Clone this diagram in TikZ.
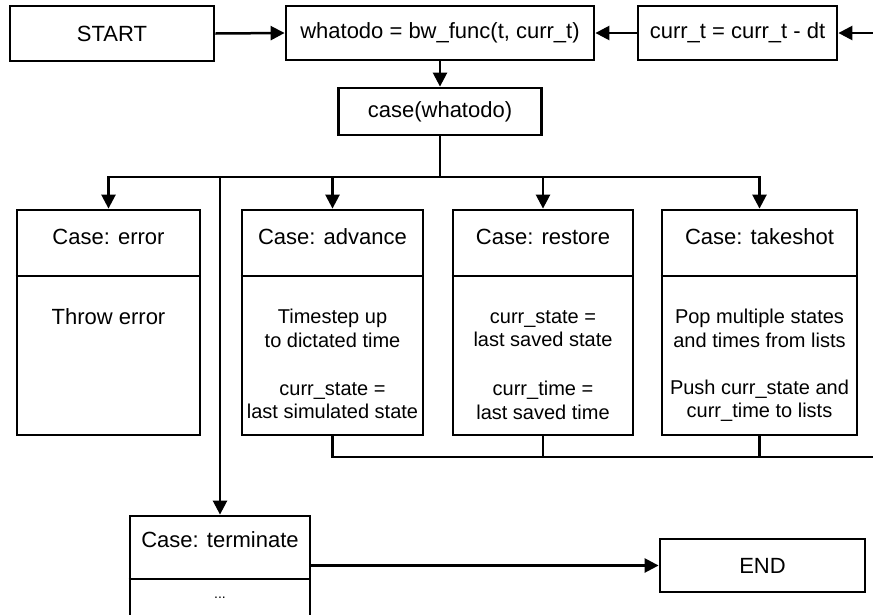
\documentclass[tikz,border=0pt]{standalone}
\usepackage{fontspec}
\setmainfont{Liberation Sans}
\usetikzlibrary{arrows.meta}
\begin{document}
\begin{tikzpicture}[x=1pt,y=-1pt,
  box/.style={draw,line width=2.8pt,rectangle,inner sep=0pt},
  conn/.style={line width=2.5pt},
  arr/.style={conn,-{Triangle[length=14pt,width=14pt]}},
  lbl/.style={font=\fontsize{22}{26}\selectfont,inner sep=0pt},
  body/.style={font=\fontsize{20}{23.5}\selectfont,align=center,inner sep=0pt},
  dots/.style={font=\fontsize{14}{16}\selectfont,inner sep=0pt},
  div/.style={line width=1.6pt}]
\useasboundingbox (0,0) rectangle (873,614);
\clip (0,0) rectangle (873,614);

% top row
\node[box,minimum width=204pt,minimum height=55pt] (start) at (112,33.5) {};
\node[lbl] (startt) at (112,33.5) {START};
\node[box,minimum width=308pt,minimum height=54pt] (what) at (440,33) {};
\node[lbl] (whatt) at (440,33) {whatodo = bw\_func(t, curr\_t)};
\node[box,minimum width=199pt,minimum height=54pt] (currt) at (737.5,33) {};
\node[lbl] (currtt) at (737.5,33) {curr\_t = curr\_t - dt};
\coordinate (rin) at (873,33);

% case
\node[box,minimum width=203pt,minimum height=47pt] (case) at (440,111.5) {};
\node[lbl] (caset) at (440,111.5) {case(whatodo)};

% case boxes
\node[box,minimum width=183pt,minimum height=225pt] (err) at (108.5,322.5) {};
\node[box,minimum width=181pt,minimum height=225pt] (adv) at (332.5,322.5) {};
\node[box,minimum width=180pt,minimum height=225pt] (res) at (543,322.5) {};
\node[box,minimum width=195pt,minimum height=225pt] (tak) at (759.5,322.5) {};
\draw[div] (err.west |- 0,276) -- (err.east |- 0,276);
\draw[div] (adv.west |- 0,276) -- (adv.east |- 0,276);
\draw[div] (res.west |- 0,276) -- (res.east |- 0,276);
\draw[div] (tak.west |- 0,276) -- (tak.east |- 0,276);

\node[lbl] (errt) at (108.5,237) {Case: error};
\node[lbl] (advt) at (332.5,237) {Case: advance};
\node[lbl] (rest) at (543,237) {Case: restore};
\node[lbl] (takt) at (759.5,237) {Case: takeshot};

\node[lbl] (errb) at (108.5,317) {Throw error};
\node[body] (advb1) at (332.5,328.5) {Timestep up\\to dictated time};
\node[body] (advb2) at (332.5,400.5) {curr\_state =\\last simulated state};
\node[body] (resb1) at (543,328.5) {curr\_state =\\last saved state};
\node[body] (resb2) at (543,400.5) {curr\_time =\\last saved time};
\node[body] (takb1) at (759.5,328.5) {Pop multiple states\\and times from lists};
\node[body] (takb2) at (759.5,400.5) {Push curr\_state and\\curr\_time to lists};

% terminate and end
\node[box,minimum width=180pt,minimum height=108pt] (term) at (220,570) {};
\draw[div] (term.west |- 0,579) -- (term.east |- 0,579);
\node[lbl] (termt) at (220,540) {Case: terminate};
\node[dots] (termd) at (220,598) {...};
\node[box,minimum width=205pt,minimum height=53pt] (endn) at (762.5,565.5) {};
\node[lbl] (endt) at (762.5,565.5) {END};

% connectors
\draw[arr] (start.east) -- (what.west);
\draw[arr] (currt.west) -- (what.east);
\draw[arr] (rin) -- (currt.east);
\draw[arr] (what.south) -- (case.north);
\draw[conn] (case.south) -- (case.south |- 0,177) coordinate (bj);
\draw[arr] (bj) -| (err.north);
\draw[arr] (bj) -| (tak.north);
\draw[arr] (adv.north |- bj) -- (adv.north);
\draw[arr] (res.north |- bj) -- (res.north);
\draw[arr] (term.north |- bj) -- (term.north);
\coordinate (ro) at (873,457);
\draw[conn] (adv.south) -- (adv.south |- ro) -- (ro);
\draw[conn] (res.south) -- (res.south |- ro);
\draw[conn] (tak.south) -- (tak.south |- ro);
\draw[arr] (term.east |- endn.west) -- (endn.west);
\end{tikzpicture}
\end{document}
